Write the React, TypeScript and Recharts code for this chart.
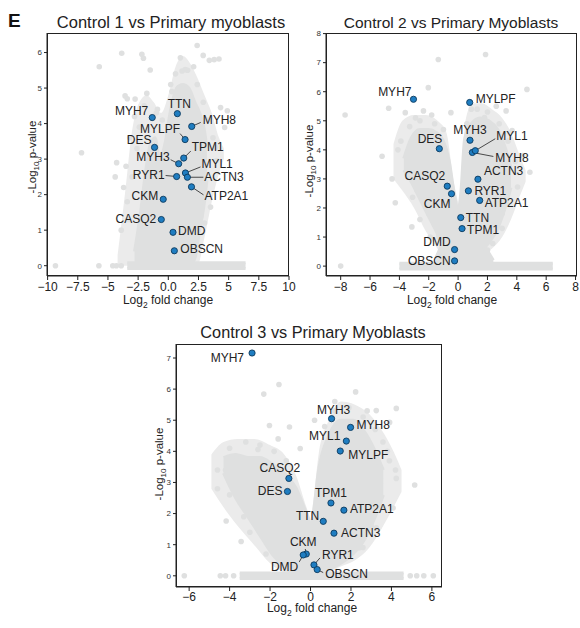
import React from 'react';
import { ComposedChart, Area, Scatter, XAxis, YAxis } from 'recharts';

const FONT = '"Liberation Sans", Arial, sans-serif';
const GRAY = '#dfe0e0';
const LIGHT = '#ebebeb';
const BLUE = '#1f7dc1';
const INK = '#222';
const Y_AXIS_W = 30;
const X_AXIS_H = 20;

// genes highlighted in every panel
const GENES = ['MYH7', 'TTN', 'MYH8', 'MYLPF', 'DES', 'TPM1', 'MYH3', 'MYL1', 'ACTN3', 'RYR1', 'ATP2A1', 'CKM', 'CASQ2', 'DMD', 'OBSCN'];

// Control 1
const C1_FC = [-1.33, 0.75, 1.94, 1.39, -1.14, 1.28, 0.86, 1.42, 1.58, 0.69, 1.92, -0.42, -0.58, 0.39, 0.5];
const C1_P = [4.17, 4.28, 3.92, 3.55, 3.33, 3.03, 2.87, 2.61, 2.49, 2.51, 2.22, 1.87, 1.3, 0.94, 0.42];
// Control 2
const C2_FC = [-3.04, 0.18, 0.97, 0.79, -1.28, 0.27, 0.81, 1.17, 1.35, 0.7, 1.47, -0.45, -0.74, -0.24, -0.24];
const C2_P = [5.74, 1.67, 3.91, 5.63, 4.04, 1.29, 4.33, 3.97, 2.99, 2.59, 2.26, 2.49, 2.75, 0.57, 0.18];
// Control 3
const C3_FC = [-2.89, 0.63, 1.98, 1.47, -1.14, 1.01, 1.04, 1.77, 1.16, 0.17, 1.65, -0.21, -1.07, -0.36, 0.33];
const C3_P = [7.16, 1.75, 4.77, 4.01, 2.71, 2.34, 5.05, 4.33, 1.37, 0.35, 2.11, 0.7, 3.13, 0.67, 0.2];

// outline of the protein cloud: [log2fc, low, high]; HALO = sparse zone, the rest = dense zone
const C1_HALO = [[-4.2, 0, 0.3], [-3.6, 0, 2.0], [-3.0, 0, 3.8], [-2.4, 0, 4.6], [-1.8, 0, 4.8], [-1.2, 0, 4.6], [-0.6, 0, 4.3], [0, 0, 4.8], [0.6, 0, 5.6], [1.2, 0, 5.9], [1.8, 0, 5.7], [2.4, 0, 5.3], [3.0, 0.8, 4.8], [3.6, 1.8, 4.3], [4.2, 2.6, 3.6], [4.6, 3.0, 3.3]];
const C1_CORE = [[-2.8, 0, 0.4], [-2.3, 0, 1.5], [-1.9, 0, 2.6], [-1.5, 0, 3.4], [-1.1, 0, 3.6], [-0.7, 0, 3.0], [-0.3, 0, 3.4], [0.2, 0, 4.4], [0.7, 0, 5.0], [1.2, 0, 5.1], [1.7, 0, 5.0], [2.2, 0.2, 4.6], [2.6, 1.0, 4.3], [3.0, 1.8, 3.8], [3.2, 2.4, 3.3]];
const C1_STRIP = [[-3.4, -0.08, 0.08], [6.4, -0.08, 0.08]];
const C2_HALO_L = [[-4.4, 3.0, 4.2], [-3.8, 2.6, 5.0], [-3.0, 2.0, 5.2], [-2.2, 1.2, 5.2], [-1.4, 0.6, 5.0], [-0.8, 0.2, 4.6], [-0.3, 0, 2.9], [0.1, 0, 2.0]];
const C2_HALO_R = [[-0.4, 0, 1.5], [0.2, 0, 2.8], [0.5, 0.1, 5.0], [1.0, 0.2, 5.6], [1.6, 0.4, 5.6], [2.3, 0.6, 5.4], [3.0, 1.0, 5.1], [3.6, 1.6, 4.6], [4.2, 2.4, 3.8], [4.6, 2.9, 3.3]];
const C2_BASE = [[-1.5, 0, 0.3], [-1.0, 0, 0.9], [-0.5, 0, 1.6], [0, 0, 2.0], [0.5, 0, 1.8], [1.2, 0, 1.0], [1.9, 0, 0.6], [2.4, 0, 0.2]];
const C2_LEFT = [[-3.7, 3.3, 3.7], [-3.2, 2.9, 4.4], [-2.6, 2.3, 4.7], [-2.0, 1.7, 4.7], [-1.5, 1.2, 4.6], [-1.0, 0.6, 4.3], [-0.6, 0.3, 3.6], [-0.3, 0.1, 2.6], [0, 0, 1.8]];
const C2_RIGHT = [[-0.2, 0, 1.2], [0.2, 0.1, 2.6], [0.45, 0.2, 4.4], [0.9, 0.3, 4.9], [1.5, 0.5, 5.1], [2.1, 0.8, 5.0], [2.7, 1.3, 4.7], [3.2, 2.0, 4.1], [3.6, 2.7, 3.4]];
const C2_STRIP = [[-4.0, -0.1, 0.1], [6.45, -0.1, 0.1]];
const C3_HALO_L = [[-4.9, 2.8, 3.9], [-4.3, 2.2, 4.3], [-3.6, 1.6, 4.4], [-2.8, 1.0, 4.4], [-2.0, 0.4, 4.2], [-1.3, 0.1, 3.9], [-0.7, 0, 3.2], [-0.2, 0, 2.2], [0.3, 0, 1.3]];
const C3_HALO_R = [[-0.5, 0, 0.9], [0.1, 0, 2.2], [0.4, 0, 3.9], [0.9, 0.1, 5.0], [1.5, 0.3, 5.6], [2.2, 0.5, 5.5], [2.9, 0.9, 5.2], [3.5, 1.5, 4.7], [4.1, 2.2, 4.0], [4.5, 2.7, 3.4]];
const C3_LEFT = [[-4.3, 3.3, 3.8], [-3.7, 2.5, 3.9], [-3.1, 1.9, 3.8], [-2.5, 1.3, 3.8], [-1.9, 0.7, 3.6], [-1.3, 0.3, 3.3], [-0.7, 0, 2.8], [-0.2, 0, 2.0], [0.3, 0, 1.1]];
const C3_RIGHT = [[-0.4, 0, 0.6], [0.1, 0, 1.8], [0.4, 0.1, 3.4], [0.9, 0.2, 4.5], [1.5, 0.4, 5.0], [2.1, 0.7, 5.0], [2.7, 1.2, 4.6], [3.2, 1.9, 4.0], [3.6, 2.6, 3.4]];
const C3_STRIP = [[-3.5, -0.09, 0.09], [4.6, -0.09, 0.09]];

// scattered proteins: [log2fc, -log10 p]
const C1_OUT = [[2.39, 6.2], [-3.86, 5.98], [-5.72, 5.6], [-2.19, 5.95], [-2.06, 5.84], [1.0, 5.85], [2.89, 5.92], [3.4, 5.78], [3.8, 5.8], [4.2, 5.82], [1.14, 5.48], [1.4, 5.52], [-1.5, 5.51], [0.86, 5.01], [-7.19, 3.18], [-3.58, 4.78], [-3.4, 4.7], [-2.75, 4.69], [-1.78, 4.85], [-4.28, 2.9], [-4.4, 2.5], [-3.7, 2.2], [4.33, 4.45], [4.89, 4.36], [4.67, 3.89], [3.92, 3.33], [4.0, 2.96], [3.5, 1.65], [3.0, 1.2], [-2.19, 0.72], [-3.3, 1.3], [-9.35, 0], [-5.75, 0], [-4.6, 0], [-4.3, 0], [-3.9, 0], [-0.9, 4.4], [0.2, 5.1], [2.1, 5.6],
  [-3.2, 3.6], [-2.8, 4.2], [-2.4, 3.9], [-3.5, 2.8], [-3.0, 2.5], [-2.6, 3.3], [-2.0, 4.5], [-1.0, 4.3], [-0.5, 4.1], [0.3, 4.9], [0.6, 5.4], [1.6, 5.5], [2.4, 5.1], [2.9, 4.6], [3.3, 4.1], [3.7, 3.6], [2.7, 1.4], [3.2, 2.0], [-3.9, 1.0], [-3.4, 1.8]];
const C2_OUT = [[1.87, 7.28], [-1.35, 7.11], [-7.7, 5.2], [-4.73, 5.43], [-2.03, 6.14], [4.69, 6.08], [-3.6, 5.28], [-2.36, 5.34], [-0.49, 5.28], [-5.18, 3.78], [-4.28, 2.18], [-3.15, 1.35], [-8.0, 0], [4.89, 3.23], [3.68, 4.66], [3.27, 5.34], [2.36, 0.78], [2.0, 0.55], [3.16, 3.52], [4.05, 2.72], [3.27, 2.15], [0.9, 5.4], [1.8, 5.11], [-3.1, 2.37], [-4.1, 4.0], [-4.5, 3.0], [-2.9, 5.1], [-1.8, 5.2], [2.6, 5.5], [3.0, 1.3], [-1.9, 1.0], [-2.6, 1.6], [4.4, 3.8],
  [-3.9, 4.3], [-3.3, 4.8], [-2.6, 5.0], [-1.6, 4.9], [-1.0, 4.7], [-3.5, 3.2], [-2.8, 2.6], [-2.0, 1.8], [-1.3, 1.0], [0.6, 4.9], [1.3, 5.4], [2.0, 5.3], [2.8, 4.9], [3.4, 4.3], [3.9, 3.6], [3.0, 1.8], [2.4, 1.2], [1.5, 0.6]];
const C3_OUT = [[-1.56, 6.15], [-2.31, 5.84], [2.23, 5.91], [3.25, 5.31], [4.24, 5.38], [3.91, 4.93], [-2.6, 4.06], [-3.68, 3.77], [-3.9, 3.8], [-4.17, 1.76], [-3.43, 1.1], [5.15, 2.92], [4.24, 3.13], [-0.51, 4.09], [-2.03, 4.83], [-1.04, 4.78], [3.58, 4.3], [3.25, 3.66], [4.08, 2.18], [3.25, 1.54], [2.59, 0.91], [-4.6, 2.8], [-3.0, 1.4], [-2.2, 0.7], [-1.6, 4.4], [0.2, 5.0], [1.2, 5.6], [2.8, 5.3], [3.9, 3.7], [-4.2, 3.4], [-6.24, 0], [-4.46, 0], [-4.2, 0], [-3.8, 0], [4.93, 0], [5.25, 0], [5.6, 0], [6.07, 0],
  [-4.6, 3.4], [-4.0, 4.1], [-3.2, 4.3], [-2.5, 4.2], [-1.8, 4.0], [-1.2, 3.7], [-4.0, 2.6], [-3.3, 1.9], [-2.5, 1.4], [-1.6, 0.6], [0.7, 4.8], [1.2, 5.3], [1.9, 5.4], [2.6, 5.1], [3.2, 4.7], [3.8, 4.0], [4.2, 3.4], [3.6, 2.2], [3.0, 1.6], [2.4, 0.9]];

// axis ticks
const C1_XTICKS = [-10, -7.5, -5, -2.5, 0, 2.5, 5, 7.5, 10];
const C1_XLABELS = ['\u221210', '\u22127.5', '\u22125', '\u22122.5', '0.0', '2.5', '5', '7.5', '10'];
const C1_YTICKS = [0, 1, 2, 3, 4, 5, 6];
const C2_XTICKS = [-8, -6, -4, -2, 0, 2, 4, 6, 8];
const C2_XLABELS = ['\u22128', '\u22126', '\u22124', '\u22122', '0', '2', '4', '6', '8'];
const C2_YTICKS = [0, 1, 2, 3, 4, 5, 6, 7, 8];
const C3_XTICKS = [-6, -4, -2, 0, 2, 4, 6];
const C3_XLABELS = ['\u22126', '\u22124', '\u22122', '0', '2', '4', '6'];
const C3_YTICKS = [0, 1, 2, 3, 4, 5, 6, 7];

// label placement, pixels from the dot: [anchor, dx, dy, leader end dx, leader end dy]
type Lab = [string, number, number, number?, number?];
const C1_LABELS: Record<string, Lab> = {
  MYH7: ['end', -4, -7], TTN: ['middle', 2, -10], MYH8: ['start', 11, -6, 9, -4], MYLPF: ['end', -5, -11, -5, -6],
  DES: ['end', -3, -7], TPM1: ['start', 8, -11, 7, -7], MYH3: ['end', -9, -7, -8, -4], MYL1: ['start', 16, -9, 15, -6],
  ACTN3: ['start', 17, 0, 16, 0], RYR1: ['end', -12, -2, -11, -1], ATP2A1: ['start', 13, 9, 12, 8], CKM: ['end', -5, -3],
  CASQ2: ['end', -5, -1], DMD: ['start', 5, -1], OBSCN: ['start', 6, -2],
};
const C2_LABELS: Record<string, Lab> = {
  MYH7: ['end', -2, -7], MYLPF: ['start', 6, -3], MYH3: ['middle', 0, -10], MYL1: ['start', 21, -15, 20, -12],
  MYH8: ['start', 23, 6, 21, 4], DES: ['end', 3, -10], ACTN3: ['start', 6, -8], CASQ2: ['end', -2, -10],
  RYR1: ['start', 6, 0], CKM: ['end', -1, 10], ATP2A1: ['start', 5, 3], TTN: ['start', 5, 0], TPM1: ['start', 5, 1],
  DMD: ['end', -4, -8], OBSCN: ['end', -4, 0],
};
const C3_LABELS: Record<string, Lab> = {
  MYH7: ['end', -8, 5], MYH3: ['middle', 2, -9], MYH8: ['start', 6, -2], MYL1: ['end', -6, -5], MYLPF: ['start', 8, 4],
  CASQ2: ['middle', -9, -10], DES: ['end', -5, 0], TPM1: ['middle', 0, -10], ATP2A1: ['start', 6, -1], TTN: ['end', -4, -5],
  ACTN3: ['start', 7, 0], CKM: ['middle', -3, -12, -1, -5], DMD: ['end', -5, 12, -4, 7], RYR1: ['start', 8, -10, 6, -7],
  OBSCN: ['start', 8, 4, 6, 3],
};

const PANELS = [
  { fc: C1_FC, p: C1_P, halo: [C1_HALO], bands: [C1_CORE, C1_STRIP], out: C1_OUT, labels: C1_LABELS,
    xTicks: C1_XTICKS, xLabels: C1_XLABELS, yTicks: C1_YTICKS, xDomain: [-10.05, 10.0], yDomain: [-0.29, 6.55],
    left: 0, top: 0, w: 300, h: 300, margin: { top: 33, right: 11, bottom: 4, left: 17 }, tickMargin: 2 },
  { fc: C2_FC, p: C2_P, halo: [C2_HALO_L, C2_HALO_R], bands: [C2_BASE, C2_LEFT, C2_RIGHT, C2_STRIP], out: C2_OUT, labels: C2_LABELS,
    xTicks: C2_XTICKS, xLabels: C2_XLABELS, yTicks: C2_YTICKS, xDomain: [-9.0, 8.1], yDomain: [-0.34, 8.02],
    left: 290, top: 0, w: 290, h: 300, margin: { top: 33, right: 3, bottom: 4, left: 6 }, tickMargin: 2 },
  { fc: C3_FC, p: C3_P, halo: [C3_HALO_L, C3_HALO_R], bands: [C3_LEFT, C3_RIGHT, C3_STRIP], out: C3_OUT, labels: C3_LABELS,
    xTicks: C3_XTICKS, xLabels: C3_XLABELS, yTicks: C3_YTICKS, xDomain: [-6.65, 6.5], yDomain: [-0.36, 7.45],
    left: 130, top: 300, w: 320, h: 310, margin: { top: 44, right: 8, bottom: 3, left: 16 }, tickMargin: 1 },
];

const grayDot = (props: any) => <circle cx={props.cx} cy={props.cy} r={2.8} fill={GRAY} />;

function blueDot(props: any, labels: Record<string, Lab>) {
  const { cx, cy, payload } = props;
  const lab = labels[payload.gene];
  if (!lab) return <g />;
  const [anchor, dx, dy, lx, ly] = lab;
  return (
    <g>
      {lx !== undefined && <line x1={cx} y1={cy} x2={cx + lx} y2={cy + (ly as number)} stroke={INK} strokeWidth={0.8} />}
      <circle cx={cx} cy={cy} r={3.1} fill={BLUE} stroke="#0c3a5e" strokeWidth={0.9} />
      <text x={cx + dx} y={cy + dy} textAnchor={anchor as any} dominantBaseline="central" fontSize={12} fontFamily={FONT} fill={INK}>
        {payload.gene}
      </text>
    </g>
  );
}

const toBand = (b: number[][]) => b.map(([x, lo, hi]) => ({ x, band: [lo, hi] }));

function Volcano({ cfg }: { cfg: any }) {
  const genes = GENES.map((g, i) => ({ gene: g, x: cfg.fc[i], y: cfg.p[i] }));
  const out = cfg.out.map(([x, y]: number[]) => ({ x, y }));
  const halo = cfg.halo.map(toBand);
  const bands = cfg.bands.map(toBand);
  const m = cfg.margin;
  // plot frame follows the chart's own margins
  const fx = m.left + Y_AXIS_W;
  const fy = m.top;
  const fw = cfg.w - fx - m.right;
  const fh = cfg.h - fy - m.bottom - X_AXIS_H;
  return (
    <div style={{ position: 'absolute', left: cfg.left, top: cfg.top, width: cfg.w, height: cfg.h }}>
      <ComposedChart width={cfg.w} height={cfg.h} margin={m}>
        <XAxis type="number" dataKey="x" domain={cfg.xDomain} ticks={cfg.xTicks} interval={0} allowDataOverflow
          tickFormatter={(v: number) => cfg.xLabels[cfg.xTicks.indexOf(v)]} height={X_AXIS_H} tickSize={4} tickMargin={cfg.tickMargin}
          axisLine={{ stroke: INK }} tickLine={{ stroke: INK }} tick={{ fontSize: 12, fill: INK, fontFamily: FONT }} />
        <YAxis type="number" domain={cfg.yDomain} ticks={cfg.yTicks} interval={0} allowDataOverflow width={Y_AXIS_W} tickSize={3}
          axisLine={{ stroke: INK }} tickLine={{ stroke: INK }} tick={{ fontSize: 8, fill: '#333', fontFamily: FONT }} />
        {halo.map((b: any, i: number) => (
          <Area key={'h' + i} data={b} dataKey="band" type="monotone" stroke="none" fill={LIGHT} fillOpacity={1}
            dot={false} activeDot={false} isAnimationActive={false} />
        ))}
        {bands.map((b: any, i: number) => (
          <Area key={'b' + i} data={b} dataKey="band" type="monotone" stroke={GRAY} strokeWidth={3} fill={GRAY} fillOpacity={1}
            dot={false} activeDot={false} isAnimationActive={false} />
        ))}
        <Scatter data={out} dataKey="y" shape={grayDot} isAnimationActive={false} />
        <Scatter data={genes} dataKey="y" shape={(p: any) => blueDot(p, cfg.labels)} isAnimationActive={false} />
      </ComposedChart>
      <svg width={cfg.w} height={cfg.h} style={{ position: 'absolute', left: 0, top: 0, pointerEvents: 'none' }}>
        <rect x={fx + 0.5} y={fy + 0.5} width={fw - 1} height={fh - 1} fill="none" stroke={INK} strokeWidth={1} />
      </svg>
    </div>
  );
}

const TITLES = ['Control 1 vs Primary myoblasts', 'Control 2 vs Primary Myoblasts', 'Control 3 vs Primary Myoblasts'];

function YLabel({ x, y }: { x: number; y: number }) {
  return (
    <text transform={`rotate(-90 ${x} ${y})`} x={x} y={y} textAnchor="middle" fontSize={11.5} fontFamily={FONT} fill={INK}>
      -Log<tspan fontSize={8} dy={3}>10</tspan><tspan dy={-3}> p-value</tspan>
    </text>
  );
}

function XLabel({ x, y }: { x: number; y: number }) {
  return (
    <text x={x} y={y} textAnchor="middle" fontSize={12} fontFamily={FONT} fill={INK}>
      Log<tspan fontSize={8.5} dy={4}>2</tspan><tspan dy={-4}> fold change</tspan>
    </text>
  );
}

export default function App() {
  return (
    <div style={{ position: 'absolute', left: 0, top: 0, width: 580, height: 628, background: '#fff', overflow: 'hidden' }}>
      {PANELS.map((cfg, i) => <Volcano key={i} cfg={cfg} />)}
      <svg width={580} height={628} style={{ position: 'absolute', left: 0, top: 0, pointerEvents: 'none' }}>
        <text x={8} y={27} fontSize={19} fontWeight="bold" fontFamily={FONT} fill="#111">E</text>
        <text x={171} y={28} textAnchor="middle" fontSize={16.5} fontFamily={FONT} fill={INK}>{TITLES[0]}</text>
        <text x={451} y={28} textAnchor="middle" fontSize={15.5} fontFamily={FONT} fill={INK}>{TITLES[1]}</text>
        <text x={313} y={338} textAnchor="middle" fontSize={16.3} fontFamily={FONT} fill={INK}>{TITLES[2]}</text>
        <YLabel x={36} y={157} />
        <YLabel x={313} y={161} />
        <YLabel x={163} y={464} />
        <XLabel x={168} y={304} />
        <XLabel x={452} y={304} />
        <XLabel x={312} y={612} />
      </svg>
    </div>
  );
}
